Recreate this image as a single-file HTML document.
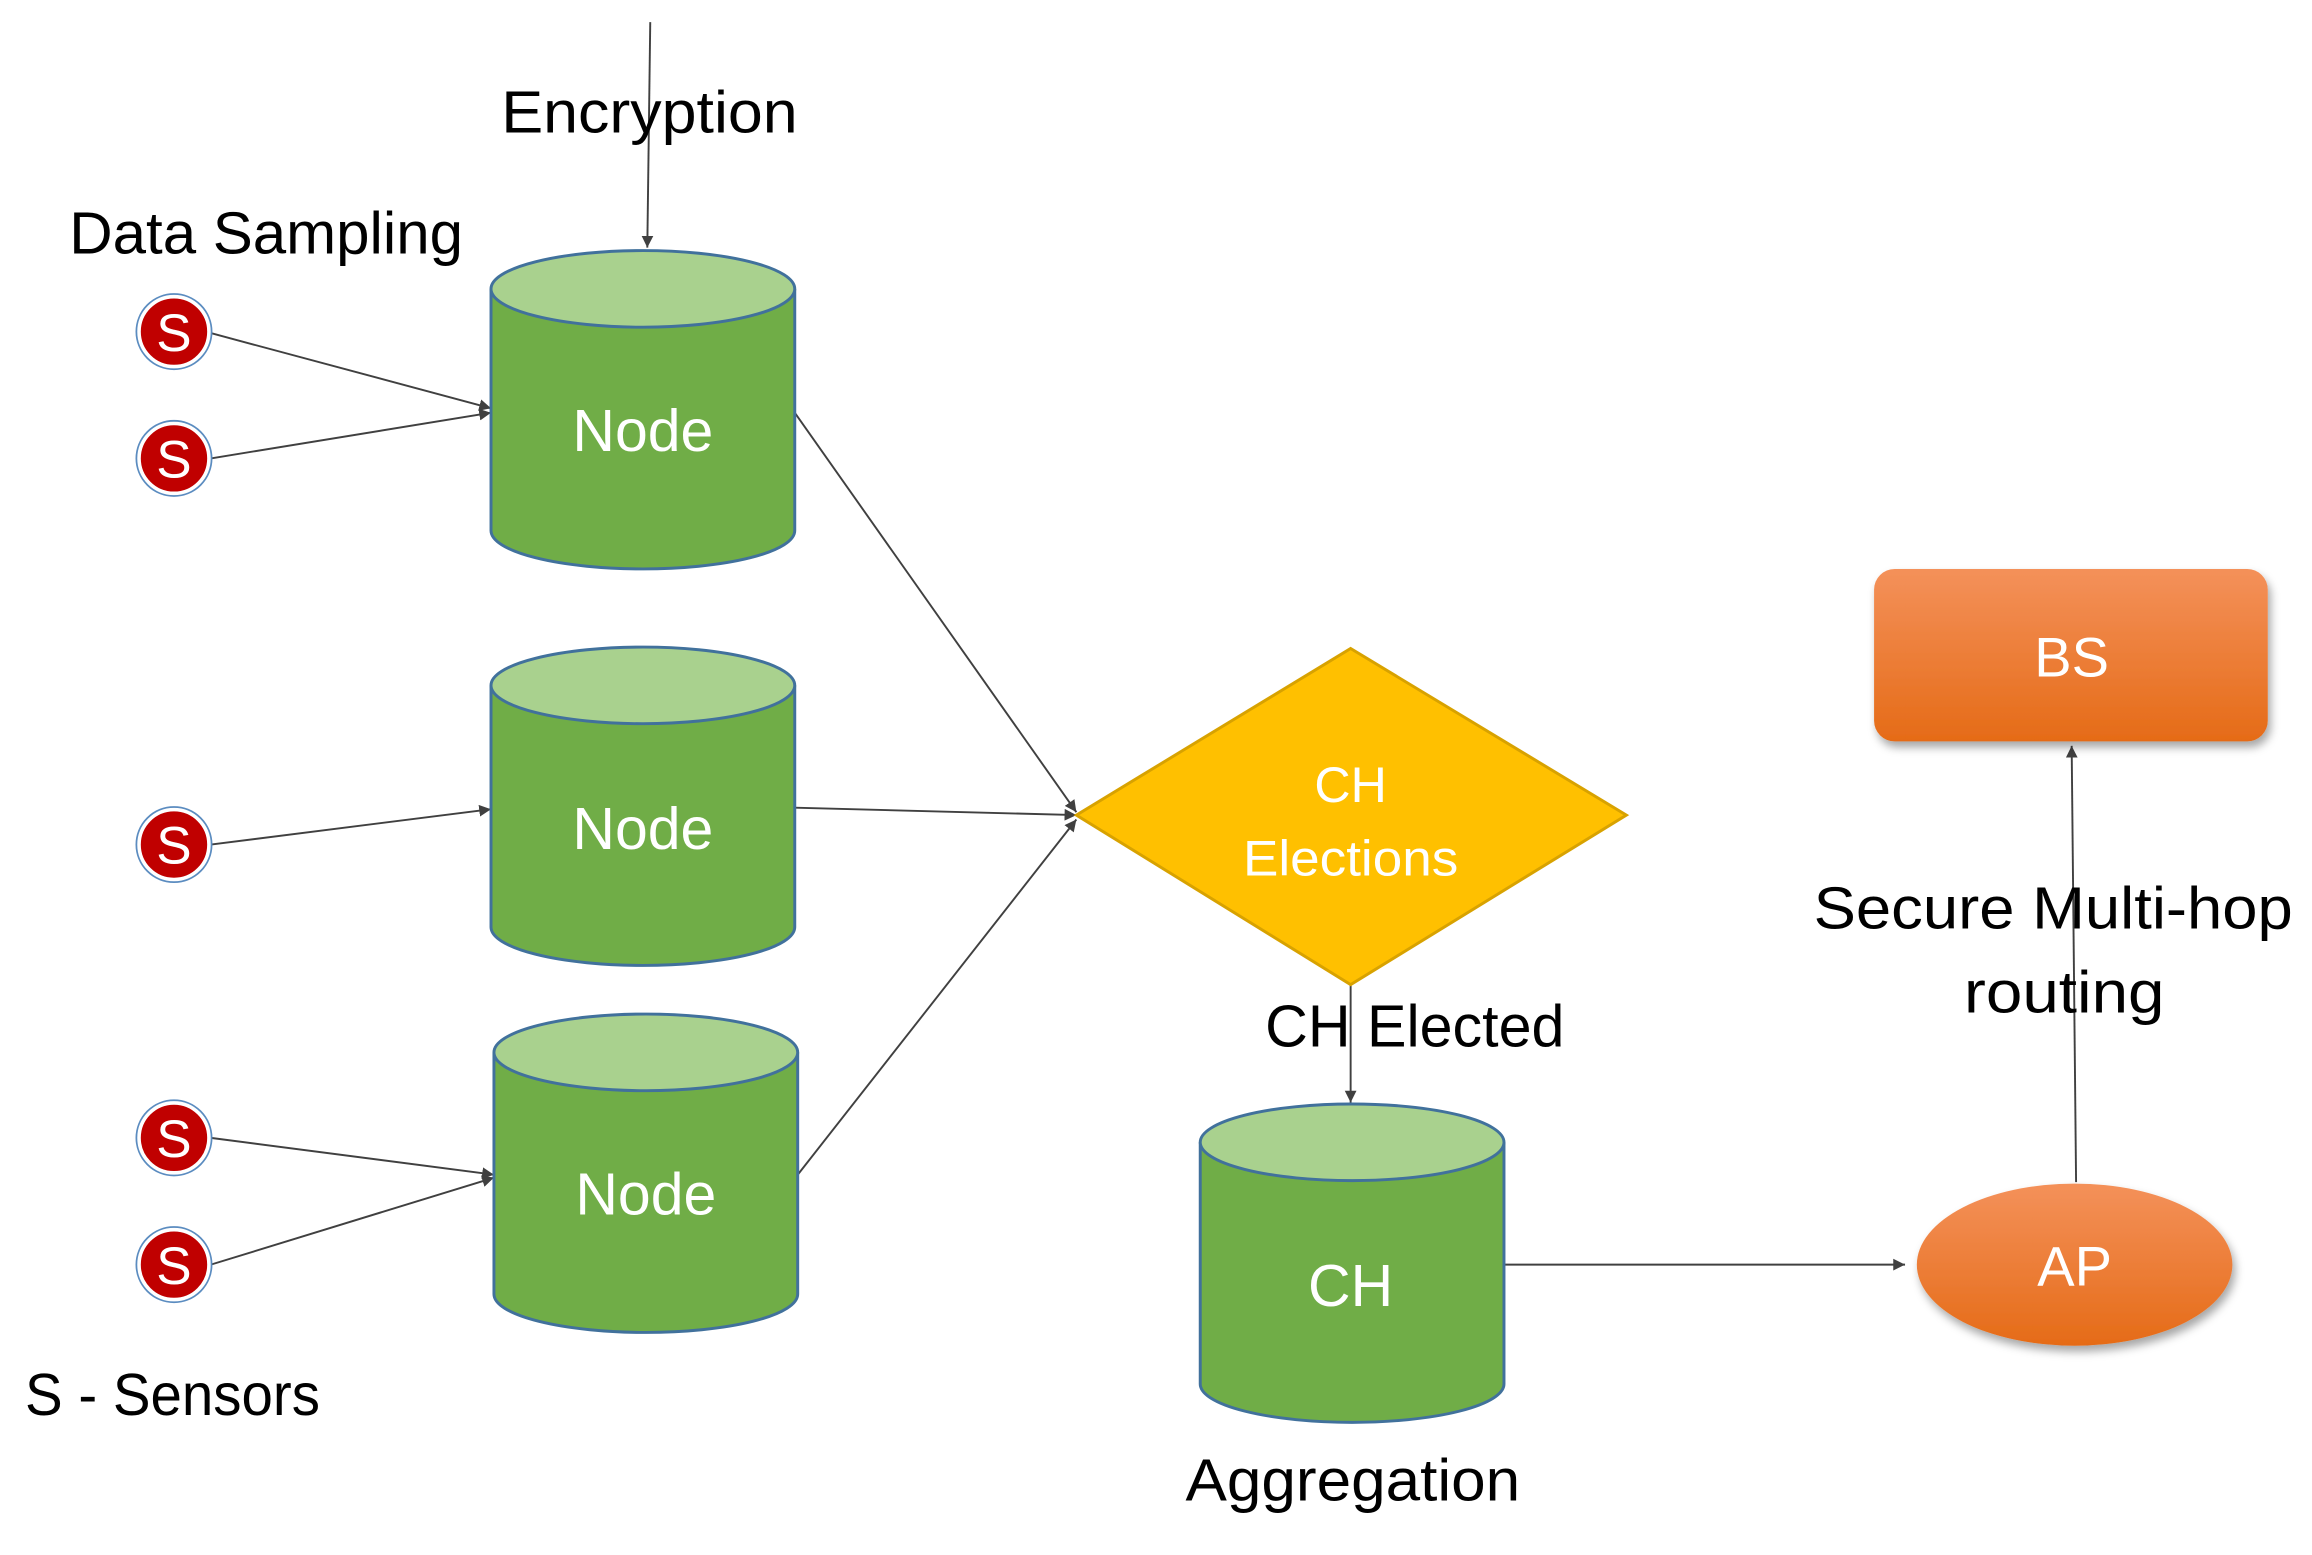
<!DOCTYPE html>
<html><head><meta charset="utf-8"><style>
html,body{margin:0;padding:0;background:#fff;}
svg{display:block;}
text{font-family:"Liberation Sans",sans-serif;}
</style></head><body>
<svg width="2312" height="1555" viewBox="0 0 1568 1055" preserveAspectRatio="none" xmlns="http://www.w3.org/2000/svg">
<defs>
<marker id="ar" viewBox="0 0 10 10" refX="10" refY="5" markerWidth="8" markerHeight="8" orient="auto" markerUnits="userSpaceOnUse">
<path d="M0,0 L10,5 L0,10 z" fill="#404040"/></marker>
<linearGradient id="og" x1="0" y1="0" x2="0" y2="1"><stop offset="0" stop-color="#f4915a"/><stop offset="1" stop-color="#e56b17"/></linearGradient>
<filter id="sh" x="-20%" y="-20%" width="140%" height="150%"><feDropShadow dx="2" dy="4" stdDeviation="3" flood-color="#000" flood-opacity="0.35"/></filter>
<g id="cyl">
<path d="M0,26 L0,190 A103,26 0 0 0 206,190 L206,26" fill="#70ad47" stroke="#41719c" stroke-width="2"/>
<ellipse cx="103" cy="26" rx="103" ry="26" fill="#a9d18e" stroke="#41719c" stroke-width="2"/>
</g>
<g id="sen">
<circle r="24" fill="#c00000" stroke="#fff" stroke-width="3"/>
<circle r="25.5" fill="none" stroke="#5b8cc0" stroke-width="1.2"/>
<text y="13" text-anchor="middle" font-size="36" fill="#fff">S</text>
</g>
</defs>
<g stroke="#404040" stroke-width="1.3" fill="none">
<line x1="441" y1="15" x2="439" y2="168" marker-end="url(#ar)"/>
<line x1="143" y1="226" x2="333" y2="277" marker-end="url(#ar)"/>
<line x1="143" y1="311" x2="333" y2="280" marker-end="url(#ar)"/>
<line x1="143" y1="573" x2="333" y2="549" marker-end="url(#ar)"/>
<line x1="143" y1="772" x2="335" y2="797" marker-end="url(#ar)"/>
<line x1="143" y1="858" x2="335" y2="799" marker-end="url(#ar)"/>
<line x1="539" y1="280" x2="730" y2="551" marker-end="url(#ar)"/>
<line x1="539" y1="548" x2="730" y2="553" marker-end="url(#ar)"/>
<line x1="541" y1="797" x2="730" y2="556" marker-end="url(#ar)"/>
<line x1="916" y1="668" x2="916" y2="748" marker-end="url(#ar)"/>
<line x1="1019" y1="858" x2="1292" y2="858" marker-end="url(#ar)"/>
<line x1="1408" y1="802" x2="1405" y2="506" marker-end="url(#ar)"/>
</g>
<text x="340" y="90" font-size="40" textLength="201" lengthAdjust="spacingAndGlyphs">Encryption</text>
<text x="47" y="172" font-size="40" textLength="267" lengthAdjust="spacingAndGlyphs">Data Sampling</text>
<text x="17" y="960" font-size="40" textLength="200" lengthAdjust="spacingAndGlyphs">S - Sensors</text>
<use href="#sen" x="118" y="225"/>
<use href="#sen" x="118" y="311"/>
<use href="#sen" x="118" y="573"/>
<use href="#sen" x="118" y="772"/>
<use href="#sen" x="118" y="858"/>
<use href="#cyl" x="333" y="170"/>
<use href="#cyl" x="333" y="439"/>
<use href="#cyl" x="335" y="688"/>
<use href="#cyl" x="814" y="749"/>
<g fill="#fff" font-size="40" text-anchor="middle">
<text x="436" y="306">Node</text>
<text x="436" y="576">Node</text>
<text x="438" y="824">Node</text>
<text x="916" y="886">CH</text>
</g>
<polygon points="916,440 1103,553 916,668 730,553" fill="#ffc000" stroke="#d8a200" stroke-width="2"/>
<text x="916" y="544" font-size="34" fill="#fff" text-anchor="middle">CH</text>
<text x="916" y="594" font-size="34" fill="#fff" text-anchor="middle" textLength="146" lengthAdjust="spacingAndGlyphs">Elections</text>
<text x="858" y="710" font-size="40" textLength="203" lengthAdjust="spacingAndGlyphs">CH Elected</text>
<text x="804" y="1018" font-size="40" textLength="227" lengthAdjust="spacingAndGlyphs">Aggregation</text>
<rect x="1271" y="386" width="267" height="117" rx="14" fill="url(#og)" filter="url(#sh)"/>
<text x="1405" y="459" font-size="38" fill="#fff" text-anchor="middle">BS</text>
<ellipse cx="1407" cy="858" rx="107" ry="55" fill="url(#og)" filter="url(#sh)"/>
<text x="1407" y="872" font-size="38" fill="#fff" text-anchor="middle">AP</text>
<text x="1230" y="630" font-size="40" textLength="325" lengthAdjust="spacingAndGlyphs">Secure Multi-hop</text>
<text x="1400" y="687" font-size="40" text-anchor="middle" textLength="136" lengthAdjust="spacingAndGlyphs">routing</text>
</svg>
</body></html>
